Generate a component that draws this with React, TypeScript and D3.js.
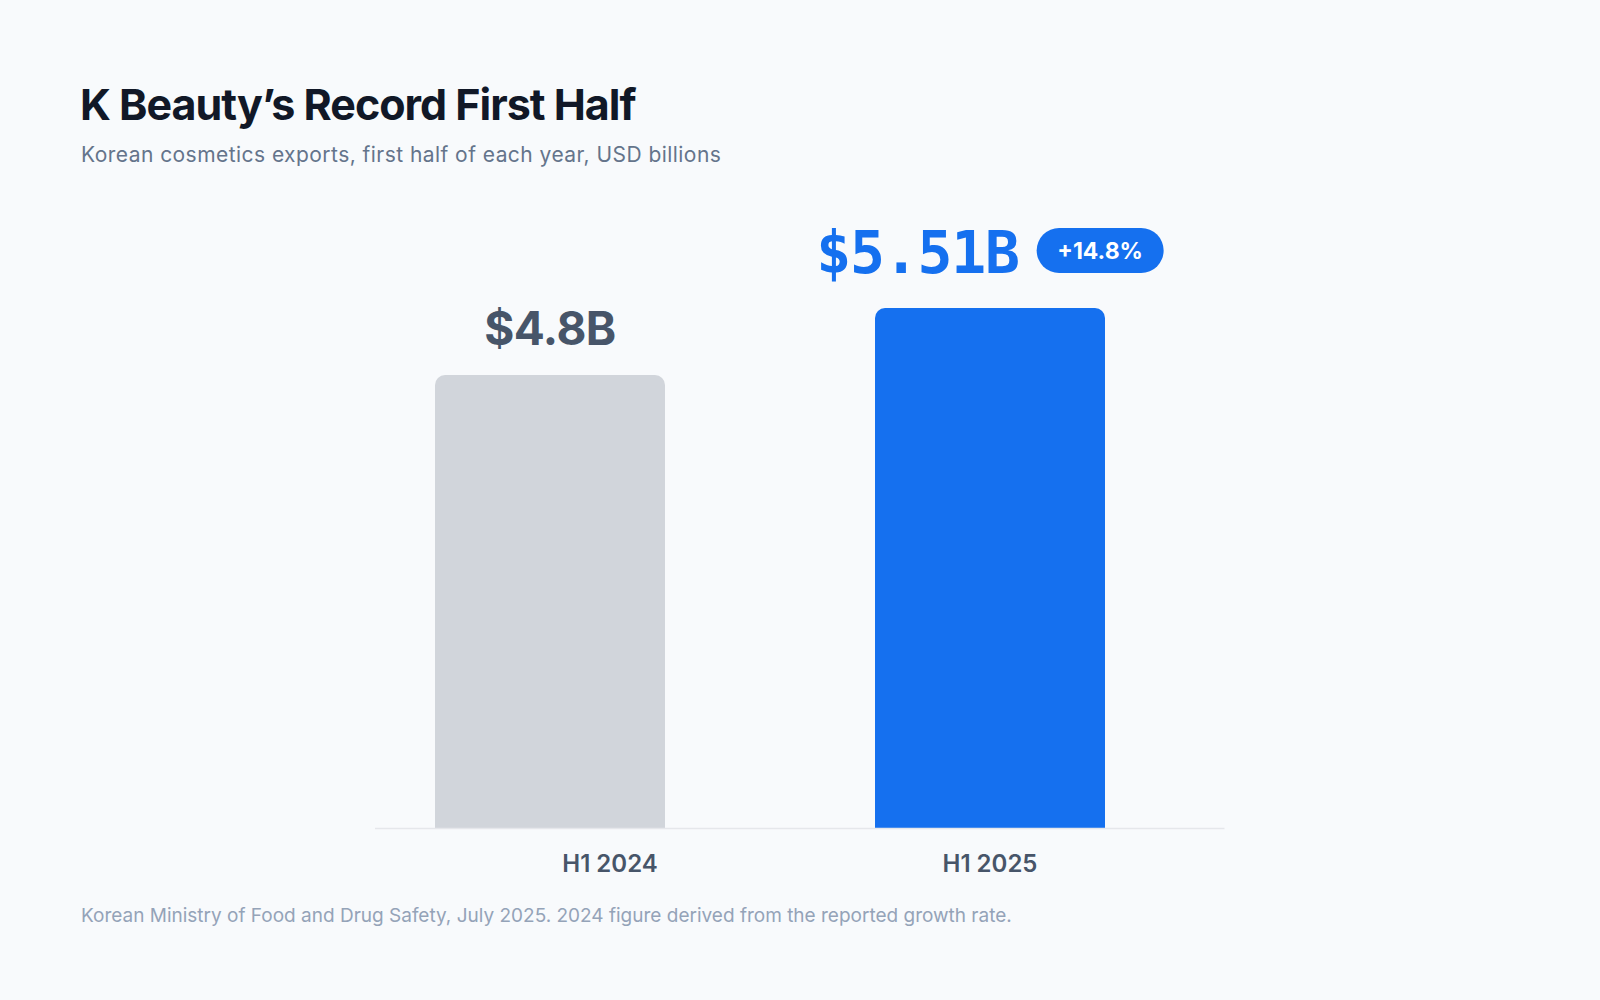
import React from 'react';
import * as d3 from 'd3';

const categories = ['H1 2024', 'H1 2025'];
const values = [4.8, 5.51];
const valueLabels = ['$4.8B', '$5.51B'];
const growthLabel = '+14.8%';

const W = 1600;
const H = 1000;

export default function App() {
  const baseline = 828.5;
  const x = d3.scaleBand().domain(categories).range([435, 1105]).paddingInner(0.4773).paddingOuter(0);
  const y = d3.scaleLinear().domain([0, d3.max(values) || 1]).range([baseline, 308]);
  const r = 10;

  const barPath = (x0: number, y0: number, w: number, h: number) => {
    const p = d3.path();
    p.moveTo(x0, y0 + h);
    p.lineTo(x0, y0 + r);
    p.arcTo(x0, y0, x0 + r, y0, r);
    p.lineTo(x0 + w - r, y0);
    p.arcTo(x0 + w, y0, x0 + w, y0 + r, r);
    p.lineTo(x0 + w, y0 + h);
    p.closePath();
    return p.toString();
  };

  const last = categories.length - 1;
  const sans = 'Inter, "Noto Sans", sans-serif';
  const mono = '"DejaVu Sans Mono", "Liberation Mono", monospace';

  // highlighted value + badge are centred as one group over the bar
  const bigSize = 58;
  const bigLs = -1.2;
  const bigW = valueLabels[last].length * (bigSize * 0.602 + bigLs);
  const badgeW = 127;
  const badgeH = 45;
  const gap = 18;
  const groupW = bigW + gap + badgeW;
  const cx2 = x(categories[last])! + x.bandwidth() / 2;
  const gx = cx2 - groupW / 2;

  return (
    <div style={{ position: 'fixed', left: 0, top: 0, width: W, height: H }}>
      <svg width={W} height={H} style={{ display: 'block', background: '#f8fafc' }}>
        <text x={80} y={120} fontFamily={sans} fontWeight={700} fontSize={43} letterSpacing={-1} fill="#111827">
          K Beauty’s Record First Half
        </text>
        <text x={81} y={162} fontFamily={sans} fontSize={21} letterSpacing={0.45} fill="#64748b">
          Korean cosmetics exports, first half of each year, USD billions
        </text>

        {categories.map((c, i) => {
          const bx = x(c)!;
          const by = y(values[i]);
          return (
            <path key={c} d={barPath(bx, by, x.bandwidth(), baseline - by)} fill={i === last ? '#1570ef' : '#d1d5db'} />
          );
        })}

        <line x1={375} x2={1224.5} y1={baseline} y2={baseline} stroke="#e5e7eb" strokeWidth={1.5} />

        {categories.slice(0, last).map((c, i) => (
          <text key={c} x={x(c)! + x.bandwidth() / 2} y={y(values[i]) - 30} textAnchor="middle"
            fontFamily={sans} fontWeight={700} fontSize={46} letterSpacing={-0.5} fill="#475569">
            {valueLabels[i]}
          </text>
        ))}

        <text x={gx} y={y(values[last]) - 35} fontFamily={mono} fontWeight={700} fontSize={bigSize}
          letterSpacing={bigLs} fill="#1570ef">
          {valueLabels[last]}
        </text>
        <rect x={gx + bigW + gap} y={y(values[last]) - 80} width={badgeW} height={badgeH} rx={badgeH / 2} fill="#1570ef" />
        <text x={gx + bigW + gap + badgeW / 2} y={y(values[last]) - 80 + badgeH / 2} dy="0.35em" textAnchor="middle"
          fontFamily={sans} fontWeight={700} fontSize={23} fill="#ffffff">
          {growthLabel}
        </text>

        {categories.map((c, i) => (
          <text key={c} x={x(c)! + x.bandwidth() / 2 + (i === 0 ? 60 : 0)} y={872} textAnchor="middle"
            fontFamily={sans} fontWeight={600} fontSize={24} fill="#475569">
            {c}
          </text>
        ))}

        <text x={81} y={922} fontFamily={sans} fontSize={19} fill="#94a3b8">
          Korean Ministry of Food and Drug Safety, July 2025. 2024 figure derived from the reported growth rate.
        </text>
      </svg>
    </div>
  );
}
